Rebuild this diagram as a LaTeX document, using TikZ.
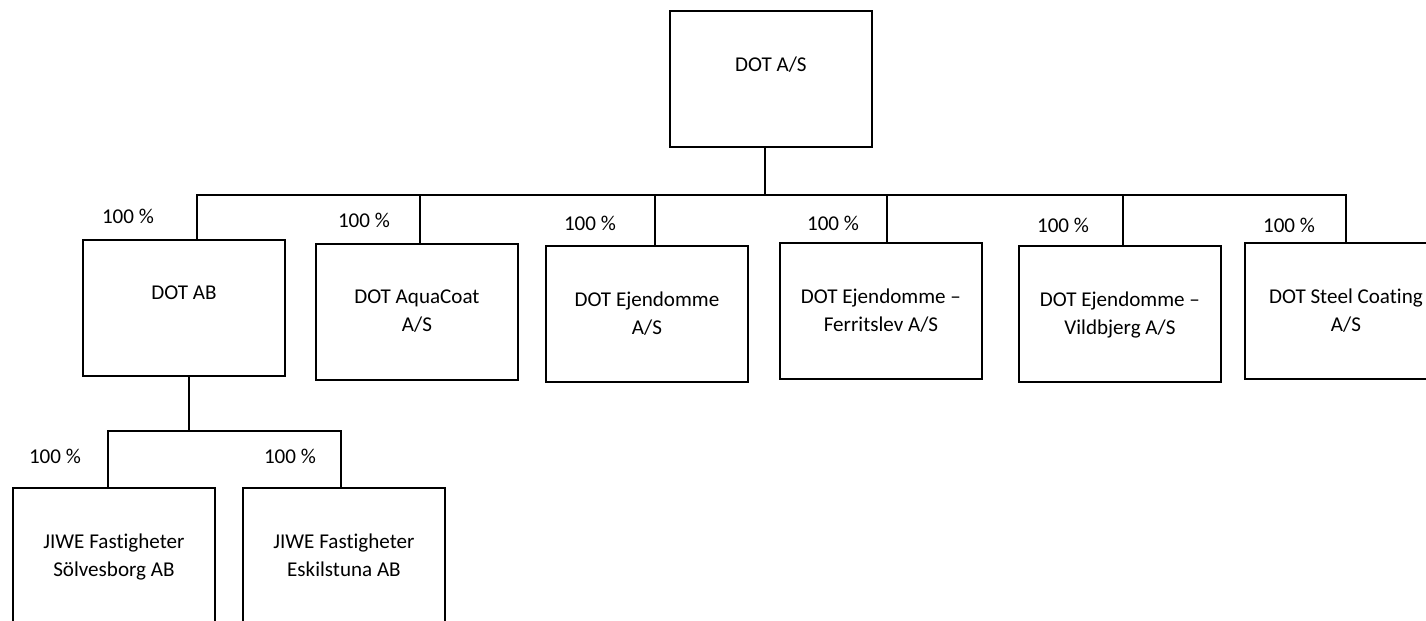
\documentclass[tikz,border=0pt]{standalone}
\usepackage{fontspec}
\setmainfont{Carlito}[Ligatures={TeX,NoCommon}]
\usetikzlibrary{positioning}
\tikzset{
  company/.style={rectangle, draw, line width=1.1pt, minimum width=4.04cm, minimum height=2.72cm, anchor=north west, inner sep=0pt},
  boxtext/.style={align=center, inner sep=0pt, font=\fontsize{12}{16}\selectfont},
  sharelbl/.style={inner sep=0pt, font=\fontsize{12}{16}\selectfont},
  link/.style={line width=1.1pt}
}
\begin{document}
\begin{tikzpicture}[x=0.02cm, y=-0.02cm]
\useasboundingbox (0,0) rectangle (1426,621);
\clip (0,0) rectangle (1426,621);

% parent
\node[company] (top) at (669,10) {};
\node[boxtext, below=0.93cm of top.north] (toptxt) {DOT A/S};

% subsidiaries
\node[company] (ab) at (82,239) {};
\node[company] (aqua) at (315,243) {};
\node[company] (ejd) at (545,245) {};
\node[company] (ferr) at (779,242) {};
\node[company] (vild) at (1018,245) {};
\node[company] (steel) at (1244,242) {};
\node[boxtext, below=0.93cm of ab.north] (abtxt) {DOT AB};
\node[boxtext, below=0.93cm of aqua.north] (aquatxt) {DOT AquaCoat\\A/S};
\node[boxtext, below=0.93cm of ejd.north] (ejdtxt) {DOT Ejendomme\\A/S};
\node[boxtext, below=0.93cm of ferr.north] (ferrtxt) {DOT Ejendomme --\\Ferritslev A/S};
\node[boxtext, below=0.93cm of vild.north] (vildtxt) {DOT Ejendomme --\\Vildbjerg A/S};
\node[boxtext, below=0.93cm of steel.north] (steeltxt) {DOT Steel Coating\\A/S};

% swedish companies
\node[company] (solv) at (12,487) {};
\node[company] (eskil) at (242,487) {};
\node[boxtext, below=0.93cm of solv.north] (solvtxt) {JIWE Fastigheter\\Sölvesborg AB};
\node[boxtext, below=0.93cm of eskil.north] (eskiltxt) {JIWE Fastigheter\\Eskilstuna AB};

% ownership shares
\node[sharelbl] (pab) at (128,216) {100 \%};
\node[sharelbl] (paqua) at (364,220) {100 \%};
\node[sharelbl] (pejd) at (590,223) {100 \%};
\node[sharelbl] (pferr) at (833,223) {100 \%};
\node[sharelbl] (pvild) at (1063,225) {100 \%};
\node[sharelbl] (psteel) at (1289,225) {100 \%};
\node[sharelbl] (psolv) at (55,456) {100 \%};
\node[sharelbl] (peskil) at (290,456) {100 \%};

% connectors
\draw[link] ([xshift=-0.11cm]top.south) -- ++(0,47) coordinate (bus);
\draw[link] ([xshift=0.26cm]ab.north) |- (bus) -| (steel.north);
\draw[link] ([xshift=0.06cm]aqua.north) -- ([xshift=0.06cm]aqua.north |- bus);
\draw[link] ([xshift=0.17cm]ejd.north) -- ([xshift=0.17cm]ejd.north |- bus);
\draw[link] ([xshift=0.13cm]ferr.north) -- ([xshift=0.13cm]ferr.north |- bus);
\draw[link] ([xshift=0.06cm]vild.north) -- ([xshift=0.06cm]vild.north |- bus);
\draw[link] ([xshift=0.1cm]ab.south) -- ++(0,54) coordinate (subbus);
\draw[link] ([xshift=-0.12cm]solv.north) |- (subbus) -| ([xshift=-0.05cm]eskil.north);
\end{tikzpicture}
\end{document}
